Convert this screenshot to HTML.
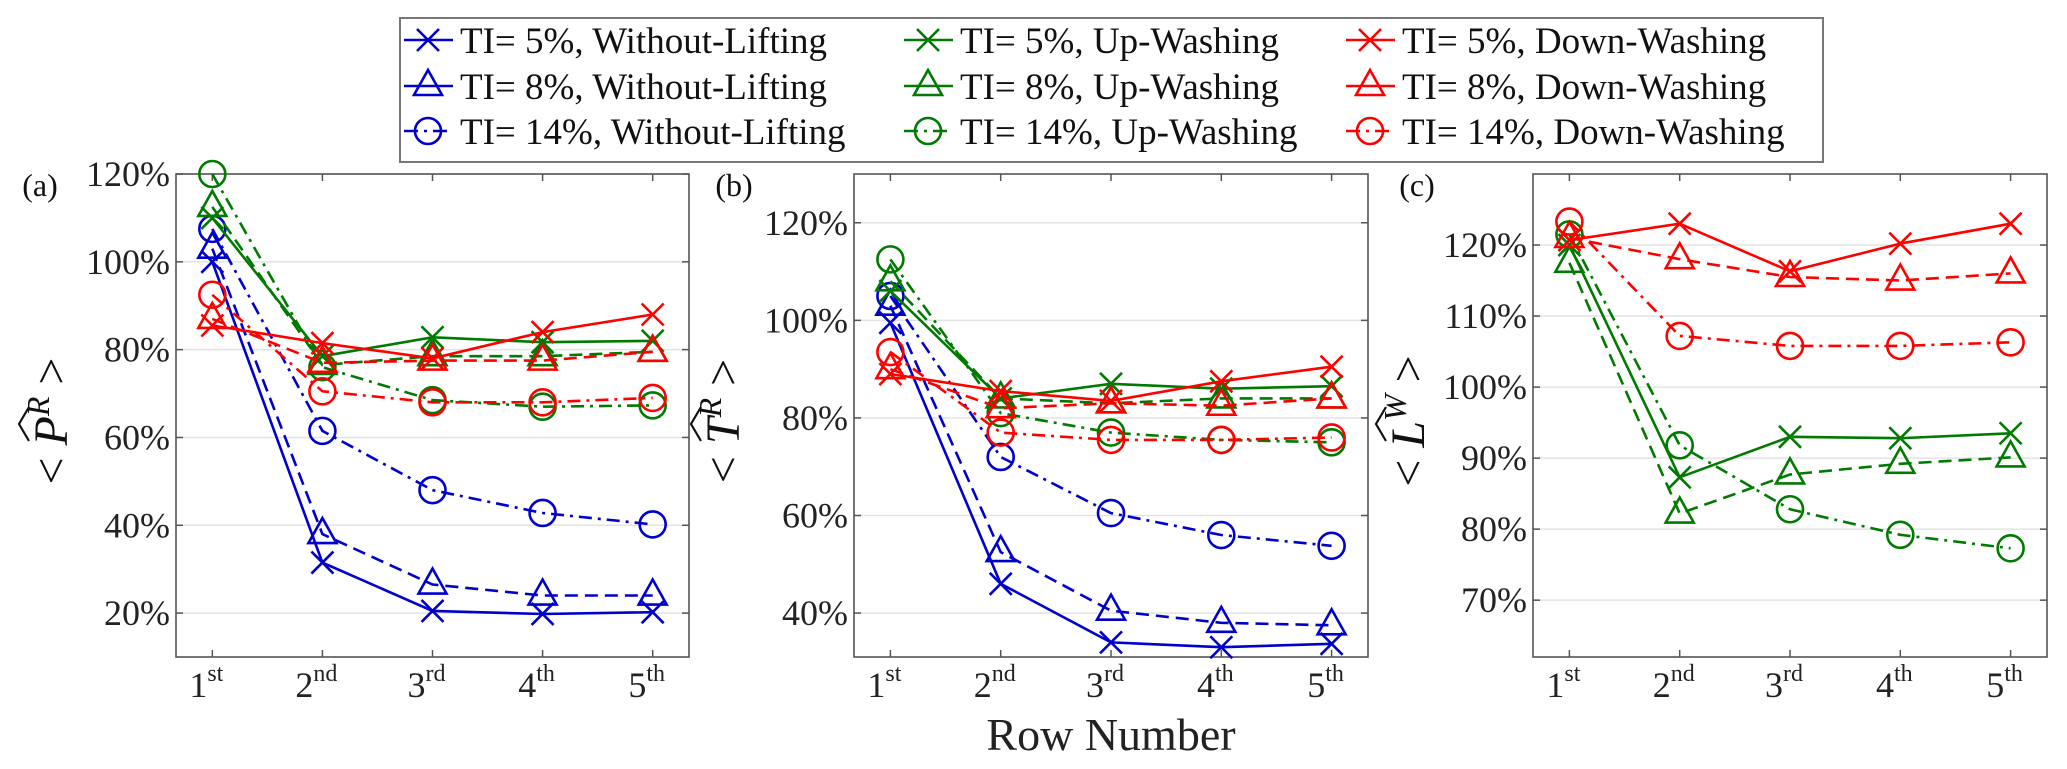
<!DOCTYPE html>
<html><head><meta charset="utf-8">
<style>
html,body{margin:0;padding:0;background:#fff;}
svg{display:block;}
svg text{font-family:"Liberation Serif","DejaVu Serif",serif;}
</style></head>
<body>
<svg id="chart" width="2067" height="769" viewBox="0 0 2067 769" xmlns="http://www.w3.org/2000/svg" font-family="Liberation Serif, DejaVu Serif, serif">
<rect x="0" y="0" width="2067" height="769" fill="#fff"/>
</svg>
<script>
// ---- data ----
const rows = ["1", "2", "3", "4", "5"];
const rowSup = ["st", "nd", "rd", "th", "th"];
// Panel (a) P^R
const pWL5 = [100, 31.5, 20.5, 19.8, 20.2];
const pWL8 = [103, 38, 26.5, 24, 24];
const pWL14 = [107.5, 61.5, 48, 42.8, 40.2];
const pUW5 = [110, 78.5, 82.8, 81.7, 82];
const pUW8 = [112.5, 76.5, 78.5, 78.5, 79.5];
const pUW14 = [120, 76, 68.5, 67, 67.3];
const pDW5 = [85.5, 81.5, 78, 84, 88];
const pDW8 = [87, 77, 77.5, 77.5, 79.5];
const pDW14 = [92.5, 70.5, 68, 68, 69];
// Panel (b) T^R
const tWL5 = [99.5, 46, 34, 33, 33.7];
const tWL8 = [103, 52.5, 40.5, 38, 37.5];
const tWL14 = [105, 72, 60.5, 56, 53.8];
const tUW5 = [106, 84, 87, 86, 86.5];
const tUW8 = [108, 84, 83, 84, 84];
const tUW14 = [112.5, 81, 77, 75.5, 75];
const tDW5 = [89, 85.5, 83.5, 87.5, 90.5];
const tDW8 = [90, 82, 83, 82.5, 84];
const tDW14 = [93.5, 77, 75.5, 75.5, 76];
// Panel (c) L^W
const lUW5 = [120, 87.3, 93, 92.8, 93.5];
const lUW8 = [117.5, 82.2, 87.7, 89.2, 90.1];
const lUW14 = [121.5, 91.8, 82.8, 79.2, 77.3];
const lDW5 = [120.7, 123, 116.3, 120.2, 123];
const lDW8 = [121, 118, 115.5, 115, 116];
const lDW14 = [123.3, 107.2, 105.8, 105.8, 106.3];
// ticks
const ticksA = [20, 40, 60, 80, 100, 120];
const ticksB = [40, 60, 80, 100, 120];
const ticksC = [70, 80, 90, 100, 110, 120];

const NS = "http://www.w3.org/2000/svg";
const FONT = "Liberation Serif, DejaVu Serif, serif";
const svg = document.getElementById("chart");
function mk(tag, attrs, parent) {
  const e = document.createElementNS(NS, tag);
  for (const k in attrs) e.setAttribute(k, attrs[k]);
  if (tag === "text") e.setAttribute("font-family", FONT);
  (parent || svg).appendChild(e);
  return e;
}
const BLUE = "#0000cc", GREEN = "#007a00", RED = "#ff0000";
const DASH = {solid: "", dash: "13,7", dashdot: "13,6,3,6"};

function drawMarker(g, type, x, y, color) {
  let m;
  if (type === "x") {
    m = mk("path", {d: `M${x-11},${y-11}L${x+11},${y+11}M${x-11},${y+11}L${x+11},${y-11}`, stroke: color, "stroke-width": 2.6, fill: "none"}, g);
  } else if (type === "tri") {
    m = mk("path", {d: `M${x},${y-16}L${x+14},${y+9}L${x-14},${y+9}Z`, stroke: color, "stroke-width": 2.6, fill: "none"}, g);
  } else {
    m = mk("circle", {cx: x, cy: y, r: 13, stroke: color, "stroke-width": 2.6, fill: "none"}, g);
  }
  return m;
}

function panel(cfg) {
  const L = cfg.x0, R = cfg.x1, T = 174, B = 657;
  const xs = v => L + (v - 0.67) / (5.33 - 0.67) * (R - L);
  const ys = v => B - (v - cfg.ymin) / (cfg.ymax - cfg.ymin) * (B - T);
  const g = mk("g", {});
  
  
  cfg.ticks.forEach(t => {
    const gl = mk("line", {x1: L, x2: R, y1: ys(t), y2: ys(t), stroke: "#e3e3e3", "stroke-width": 1.5}, g);
    
    
  });
  const box = mk("rect", {x: L, y: T, width: R - L, height: B - T, fill: "none", stroke: "#555", "stroke-width": 1.6}, g);
  
  
  cfg.ticks.forEach(t => {
    mk("line", {x1: L, x2: L + 7, y1: ys(t), y2: ys(t), stroke: "#555", "stroke-width": 1.5}, g);
    mk("line", {x1: R, x2: R - 7, y1: ys(t), y2: ys(t), stroke: "#555", "stroke-width": 1.5}, g);
    const tl = mk("text", {x: L - 6, y: ys(t) + 12, "text-anchor": "end", "font-size": 36, fill: "#222"}, g);
    tl.textContent = t + "%";
    
    
  });
  rows.forEach((r, i) => {
    const x = xs(i + 1);
    mk("line", {x1: x, x2: x, y1: B, y2: B - 7, stroke: "#555", "stroke-width": 1.5}, g);
    mk("line", {x1: x, x2: x, y1: T, y2: T + 7, stroke: "#555", "stroke-width": 1.5}, g);
    const tl = mk("text", {x: x - 6, y: 697, "text-anchor": "middle", "font-size": 36, fill: "#222"}, g);
    
    
    const a = mk("tspan", {}, tl); a.textContent = r;
    const s = mk("tspan", {"font-size": 24, dy: -16}, tl); s.textContent = rowSup[i];
  });
  cfg.series.forEach(s => {
    const sg = mk("g", {}, g);
    
    
    const pts = s.data.map((v, i) => `${xs(i + 1).toFixed(1)},${ys(v).toFixed(1)}`).join(" ");
    const pl = mk("polyline", {points: pts, fill: "none", stroke: s.color, "stroke-width": 2.6, "stroke-dasharray": DASH[s.dash]}, sg);
    
    
    s.data.forEach((v, i) => {
      const m = drawMarker(sg, s.marker, xs(i + 1), ys(v), s.color);
      
      
    });
  });
  const pl = mk("text", {x: cfg.lx, y: 196, "text-anchor": "middle", "font-size": 32, fill: "#111"}, g);
  pl.textContent = cfg.label;
  
  
  const yt = mk("g", {transform: `translate(${cfg.tx},421) rotate(-90)`}, g);
  
  
  const tt = mk("text", {x: 0, y: 14, "text-anchor": "middle", "font-size": 48, fill: "#111"}, yt);
  const t1 = mk("tspan", {}, tt); t1.textContent = "< ";
  const t2 = mk("tspan", {"font-style": "italic"}, tt); t2.textContent = cfg.sym;
  const t3 = mk("tspan", {"font-style": "italic", "font-size": 32, dy: -18}, tt); t3.textContent = cfg.sup;
  const t4 = mk("tspan", {dy: 18}, tt); t4.textContent = " >";
  mk("path", {d: "M-20,-24 L-3,-34 L14,-24", fill: "none", stroke: "#111", "stroke-width": 2.2}, yt);
}

panel({name: "panel-a-power", x0: 176, x1: 689, ymin: 10, ymax: 120, ticks: ticksA, label: "(a)", lx: 40, tx: 53, sym: "P", sup: "R",
  series: [
    {name: "wl-ti5", data: pWL5, color: BLUE, dash: "solid", marker: "x"},
    {name: "wl-ti8", data: pWL8, color: BLUE, dash: "dash", marker: "tri"},
    {name: "wl-ti14", data: pWL14, color: BLUE, dash: "dashdot", marker: "o"},
    {name: "uw-ti5", data: pUW5, color: GREEN, dash: "solid", marker: "x"},
    {name: "uw-ti8", data: pUW8, color: GREEN, dash: "dash", marker: "tri"},
    {name: "uw-ti14", data: pUW14, color: GREEN, dash: "dashdot", marker: "o"},
    {name: "dw-ti5", data: pDW5, color: RED, dash: "solid", marker: "x"},
    {name: "dw-ti8", data: pDW8, color: RED, dash: "dash", marker: "tri"},
    {name: "dw-ti14", data: pDW14, color: RED, dash: "dashdot", marker: "o"}
  ]});
panel({name: "panel-b-thrust", x0: 854, x1: 1368, ymin: 31, ymax: 130, ticks: ticksB, label: "(b)", lx: 734, tx: 725, sym: "T", sup: "R",
  series: [
    {name: "wl-ti5", data: tWL5, color: BLUE, dash: "solid", marker: "x"},
    {name: "wl-ti8", data: tWL8, color: BLUE, dash: "dash", marker: "tri"},
    {name: "wl-ti14", data: tWL14, color: BLUE, dash: "dashdot", marker: "o"},
    {name: "uw-ti5", data: tUW5, color: GREEN, dash: "solid", marker: "x"},
    {name: "uw-ti8", data: tUW8, color: GREEN, dash: "dash", marker: "tri"},
    {name: "uw-ti14", data: tUW14, color: GREEN, dash: "dashdot", marker: "o"},
    {name: "dw-ti5", data: tDW5, color: RED, dash: "solid", marker: "x"},
    {name: "dw-ti8", data: tDW8, color: RED, dash: "dash", marker: "tri"},
    {name: "dw-ti14", data: tDW14, color: RED, dash: "dashdot", marker: "o"}
  ]});
panel({name: "panel-c-lift", x0: 1533, x1: 2047, ymin: 62, ymax: 130, ticks: ticksC, label: "(c)", lx: 1417, tx: 1410, sym: "L", sup: "W",
  series: [
    {name: "uw-ti5", data: lUW5, color: GREEN, dash: "solid", marker: "x"},
    {name: "uw-ti8", data: lUW8, color: GREEN, dash: "dash", marker: "tri"},
    {name: "uw-ti14", data: lUW14, color: GREEN, dash: "dashdot", marker: "o"},
    {name: "dw-ti5", data: lDW5, color: RED, dash: "solid", marker: "x"},
    {name: "dw-ti8", data: lDW8, color: RED, dash: "dash", marker: "tri"},
    {name: "dw-ti14", data: lDW14, color: RED, dash: "dashdot", marker: "o"}
  ]});

const xt = mk("text", {x: 1111, y: 750, "text-anchor": "middle", "font-size": 46, fill: "#222"});
xt.textContent = "Row Number";



const lg = mk("g", {});


mk("rect", {x: 400, y: 18, width: 1423, height: 144, fill: "#fff", stroke: "#777", "stroke-width": 2}, lg);
const legendLabels = [
  ["TI= 5%, Without-Lifting", "TI= 5%, Up-Washing", "TI= 5%, Down-Washing"],
  ["TI= 8%, Without-Lifting", "TI= 8%, Up-Washing", "TI= 8%, Down-Washing"],
  ["TI= 14%, Without-Lifting", "TI= 14%, Up-Washing", "TI= 14%, Down-Washing"]
];
const colX = [404, 904, 1346];
const colC = [BLUE, GREEN, RED];
const rowY = [40, 86, 131];
const rowM = ["x", "tri", "o"];
for (let r = 0; r < 3; r++) for (let c = 0; c < 3; c++) {
  const eg = mk("g", {}, lg);
  
  
  const x = colX[c], y = rowY[r];
  mk("line", {x1: x, x2: x + 49, y1: y, y2: y, stroke: colC[c], "stroke-width": 2.6, "stroke-dasharray": r === 2 ? "14,6,3,6" : ""}, eg);
  drawMarker(eg, rowM[r], x + 24, y, colC[c]);
  const t = mk("text", {x: x + 56, y: y + 13, "font-size": 37, fill: "#111"}, eg);
  t.textContent = legendLabels[r][c];
}
</script>
</body></html>
